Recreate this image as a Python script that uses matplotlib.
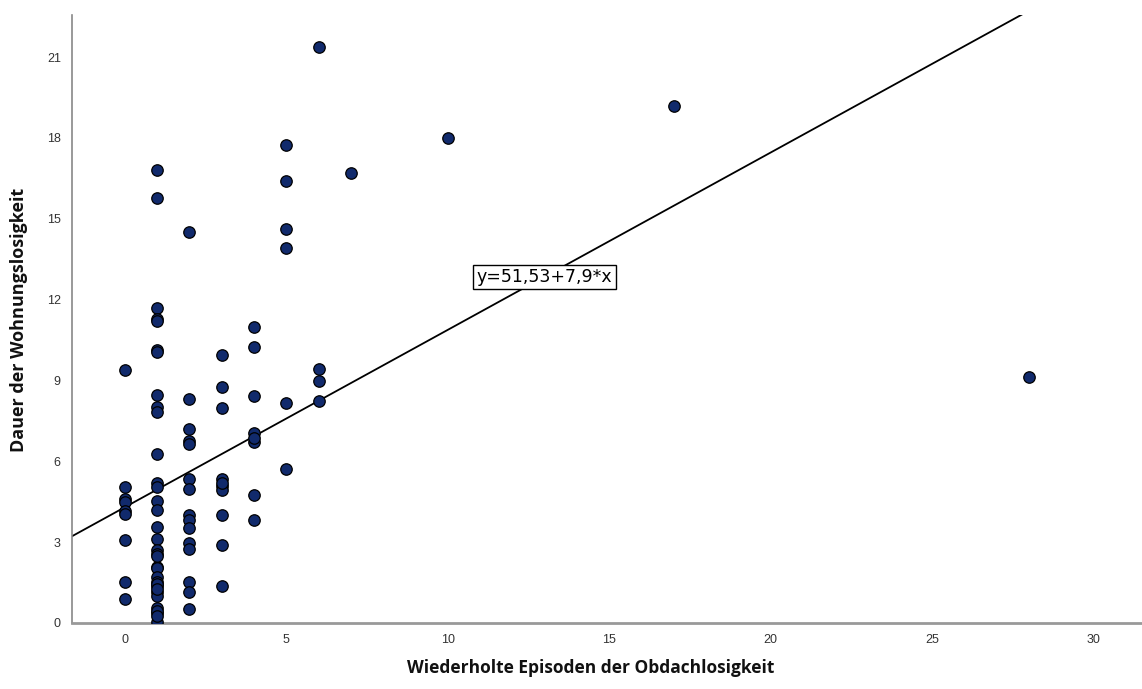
import numpy as np
import matplotlib
matplotlib.use('Agg')
import matplotlib.pyplot as plt

# Wiederholte Episoden (x) und Dauer in Jahren (y)
episodes = (
    [0] * 9
    + [1] * 34
    + [2] * 15
    + [3] * 10
    + [4] * 8
    + [5] * 6
    + [6] * 4
    + [7, 10, 17, 28]
)
duration = (
    # 0
    [9.40, 5.05, 4.60, 4.50, 4.15, 4.05, 3.08, 1.50, 0.90]
    # 1
    + [16.81, 15.76, 11.68, 11.27, 11.22, 10.13, 10.06, 8.47, 8.03, 7.84,
       6.28, 5.18, 5.05, 4.54, 4.19, 3.57, 3.10, 2.71, 2.56, 2.09,
       2.03, 1.72, 1.53, 1.35, 1.16, 0.98, 0.55, 0.38, 0.05, 0.45,
       1.45, 2.50, 0.25, 1.25]
    # 2
    + [14.50, 8.31, 7.19, 6.75, 6.65, 5.34, 4.97, 4.01, 3.80, 3.53,
       2.98, 2.73, 1.53, 1.16, 0.51]
    # 3
    + [9.96, 8.77, 7.98, 5.33, 5.08, 4.94, 4.02, 2.90, 1.37, 5.20]
    # 4
    + [10.99, 10.25, 8.41, 7.03, 6.70, 4.74, 3.82, 6.85]
    # 5
    + [17.75, 16.39, 14.63, 13.90, 8.17, 5.70]
    # 6
    + [21.36, 9.43, 8.99, 8.25]
    # 7, 10, 17, 28
    + [16.71, 18.00, 19.18, 9.13]
)

# Regressionsgerade in Monaten: y = 51,53 + 7,9 * x
intercept_months = 51.53
slope_months = 7.9

x_ticks = [0, 5, 10, 15, 20, 25, 30]
y_ticks = [0, 3, 6, 9, 12, 15, 18, 21]

plt.rcParams['font.family'] = ['Liberation Sans Narrow', 'Liberation Sans', 'DejaVu Sans']

fig = plt.figure(figsize=(11.42, 6.89), dpi=100)
ax = fig.add_axes([0.063, 0.096, 0.937, 0.882])

ax.scatter(episodes, duration, s=68, color='#112a6c', edgecolor='black',
           linewidth=0.9, zorder=3)

xs = np.array([-2, 33])
ax.plot(xs, (intercept_months + slope_months * xs) / 12, color='black',
        linewidth=1.3, zorder=2)

ax.text(13.0, 12.84, f"y={intercept_months:.2f}+{slope_months}*x".replace('.', ','),
        ha='center', va='center', fontsize=12.5, family=['DejaVu Sans'],
        bbox=dict(boxstyle='square,pad=0.2', facecolor='white',
                  edgecolor='black', linewidth=1), zorder=4)

ax.set_xlim(-1.64, 31.5)
ax.set_ylim(0, 22.56)
ax.set_xticks(x_ticks)
ax.set_yticks(y_ticks)
ax.tick_params(length=0, labelsize=9, colors='#333333', pad=8)

for side in ['top', 'right']:
    ax.spines[side].set_visible(False)
ax.spines['left'].set_color('#888888')
ax.spines['left'].set_linewidth(1.2)
ax.spines['bottom'].set_color('#999999')
ax.spines['bottom'].set_linewidth(2)

fig.text(0.517, 0.017, 'Wiederholte Episoden der Obdachlosigkeit', ha='center',
         va='bottom', fontsize=12.5, fontweight='bold', color='#111111',
         family=['Open Sans', 'DejaVu Sans'])
fig.text(0.017, 0.535, 'Dauer der Wohnungslosigkeit', ha='center', va='center',
         rotation=90, fontsize=13, fontweight='bold', color='#111111',
         family=['Open Sans', 'DejaVu Sans'])

fig.savefig('out.png', dpi=100)
